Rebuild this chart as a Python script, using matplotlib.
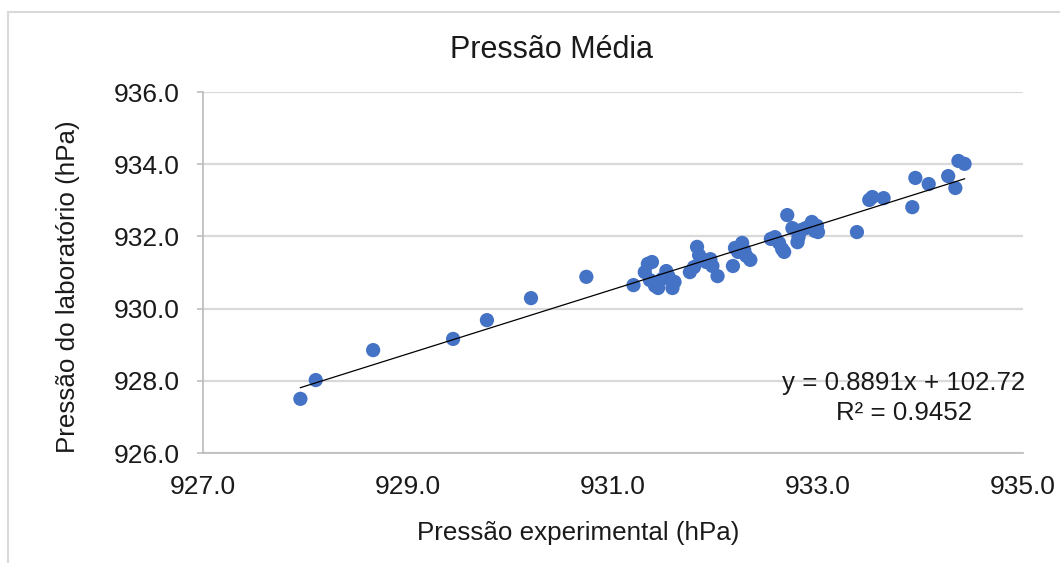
import numpy as np
import matplotlib
matplotlib.use("Agg")
import matplotlib.pyplot as plt
from matplotlib.patches import Rectangle

plt.rcParams['font.family'] = ['Liberation Sans', 'DejaVu Sans']

title = "Pressão Média"
xlabel = "Pressão experimental (hPa)"
ylabel = "Pressão do laboratório (hPa)"
eq_text = "y = 0.8891x + 102.72\nR² = 0.9452"

x_exp = [927.95, 928.10, 928.66, 929.44, 929.77, 930.20, 930.74, 931.20,
         931.31, 931.34, 931.38, 931.36, 931.41, 931.44, 931.48, 931.52,
         931.54, 931.58, 931.60, 931.75, 931.79, 931.82, 931.84, 931.87,
         931.91, 931.95, 931.97, 932.02, 932.17, 932.19, 932.22, 932.26,
         932.28, 932.30, 932.34, 932.54, 932.58, 932.62, 932.65, 932.67,
         932.70, 932.75, 932.80, 932.81, 932.84, 932.88, 932.94, 932.97,
         932.99, 933.00, 933.38, 933.50, 933.53, 933.64, 933.92, 933.95,
         934.08, 934.27, 934.34, 934.37, 934.43]
y_lab = [927.50, 928.02, 928.85, 929.16, 929.68, 930.29, 930.88, 930.65,
         931.01, 931.24, 931.29, 930.79, 930.63, 930.57, 930.82, 931.04,
         930.90, 930.57, 930.74, 931.01, 931.15, 931.71, 931.48, 931.35,
         931.29, 931.37, 931.18, 930.90, 931.18, 931.68, 931.57, 931.82,
         931.62, 931.46, 931.35, 931.93, 931.98, 931.82, 931.65, 931.57,
         932.59, 932.23, 931.84, 931.98, 932.18, 932.23, 932.40, 932.15,
         932.29, 932.12, 932.12, 933.01, 933.09, 933.06, 932.81, 933.62,
         933.45, 933.67, 933.34, 934.09, 934.01]

xticks = [927.0, 929.0, 931.0, 933.0, 935.0]
yticks = [926.0, 928.0, 930.0, 932.0, 934.0, 936.0]

W, H = 1060, 563
fig = plt.figure(figsize=(W / 100, H / 100), dpi=100)
ax = fig.add_axes([203 / W, 1 - 453 / H, (1023 - 203) / W, (453 - 92) / H])

txt_color = '#1a1a1a'
grid_color = '#d9d9d9'

ax.scatter(x_exp, y_lab, s=105, color='#4472c4', zorder=3, edgecolors='none')

coef = np.polyfit(x_exp, y_lab, 1)
xl = np.array([min(x_exp), max(x_exp)])
ax.plot(xl, np.polyval(coef, xl), color='black', lw=0.9, zorder=4)

ax.set_xlim(927, 935)
ax.set_ylim(926, 936)
ax.set_xticks(xticks)
ax.set_yticks(yticks)
ax.set_xticklabels([f"{v:.1f}" for v in xticks])
ax.set_yticklabels([f"{v:.1f}" for v in yticks])
ax.grid(axis='y', color=grid_color, lw=1.6, zorder=0)
ax.set_axisbelow(True)
for s in ['top', 'right']:
    ax.spines[s].set_visible(False)
for s in ['left', 'bottom']:
    ax.spines[s].set_color('#bfbfbf')
    ax.spines[s].set_linewidth(1.3)
ax.tick_params(axis='y', length=4, color='#bfbfbf', width=1.2,
               labelsize=19, labelcolor=txt_color, pad=13)
ax.tick_params(axis='x', length=0, labelsize=19, labelcolor=txt_color, pad=16)

fig.text(551 / W, 1 - 50 / H, title, fontsize=22, color=txt_color,
         ha='center', va='center')
ax.set_xlabel(xlabel, fontsize=18.7, color=txt_color, va='center')
ax.xaxis.set_label_coords((578 - 203) / 820, (453 - 533) / 361)
ax.set_ylabel(ylabel, fontsize=18.7, color=txt_color, va='center')
ax.yaxis.set_label_coords((68 - 203) / 820, (453 - 287) / 361)

ax.text(904 / W, 1 - 398 / H, eq_text, transform=fig.transFigure,
        ha='center', va='center', multialignment='center',
        fontsize=18.6, color=txt_color, linespacing=1.3)

fig.patches.append(Rectangle((8 / W, -0.1), 1.2, 1.1 - 12 / H,
                             transform=fig.transFigure, fill=False,
                             edgecolor=grid_color, lw=1.5))

fig.savefig('out.png', dpi=100)
